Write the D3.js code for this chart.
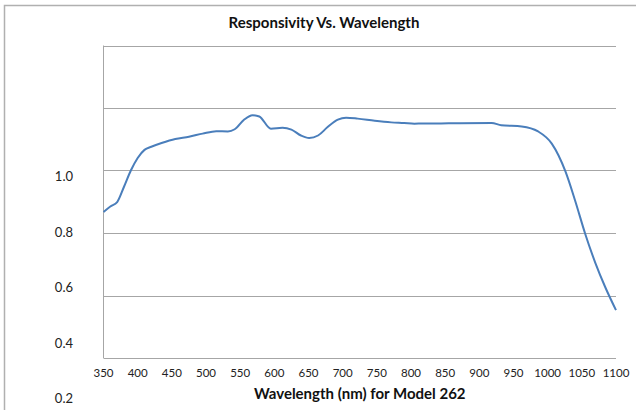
<!DOCTYPE html>
<html>
<head>
<meta charset="utf-8">
<script src="https://cdn.jsdelivr.net/npm/d3@7"></script>
<style>
  body { margin: 0; background: #fff; }
  svg { display: block; font-family: Lato, "Open Sans", sans-serif; }
</style>
</head>
<body>
<svg id="chart" width="636" height="410"></svg>
<script>
(function() {

  // wavelength (nm) and responsivity
  let wavelengths = [350, 360, 370, 380, 390, 400, 410, 420, 435, 455, 475, 495, 515, 532, 542,
                     556, 568, 578, 595, 612, 625, 639, 651, 664, 678, 693, 705, 722, 747, 771,
                     790, 805, 855, 918, 932, 962, 986, 1006, 1026, 1040, 1055, 1070, 1084, 1100];
  let responsivity = [0.667, 0.685, 0.699, 0.748, 0.800, 0.840, 0.866, 0.876, 0.888, 0.901, 0.908, 0.918, 0.926, 0.925, 0.932,
                      0.963, 0.977, 0.973, 0.934, 0.937, 0.931, 0.912, 0.904, 0.912, 0.939, 0.963, 0.969, 0.966, 0.959, 0.954,
                      0.952, 0.950, 0.951, 0.952, 0.945, 0.941, 0.925, 0.886, 0.797, 0.705, 0.597, 0.503, 0.428, 0.353];

  let xTicks = d3.range(350, 1101, 50);
  let gridValues = [0.4, 0.6, 0.8, 1.0, 1.2];
  let yLabels = ["1.0", "0.8", "0.6", "0.4", "0.2"];

  let svg = d3.select("#chart");
  let left = 103.5, right = 616, top = 45.5, bottom = 358;

  // chart frame
  svg.append("path")
     .attr("d", "M4.5,410 V5.5 H636")
     .attr("fill", "none")
     .attr("stroke", "#b0b0b0")
     .attr("stroke-width", 1.5);

  let xScale = d3.scaleLinear()
                 .domain([350, 1100])
                 .range([left, right]);
  let yScale = d3.scaleLinear()
                 .domain([0.2, 1.2])
                 .range([bottom, top]);
  // the y labels in the picture sit on their own spacing, not on the gridlines
  let labelScale = d3.scaleLinear()
                     .domain([1.0, 0.2])
                     .range([176, 398]);

  // gridlines
  svg.append("g")
     .selectAll("line")
     .data(gridValues)
     .enter()
     .append("line")
     .attr("x1", left)
     .attr("x2", right)
     .attr("y1", d => Math.round(yScale(d)) + 0.5)
     .attr("y2", d => Math.round(yScale(d)) + 0.5)
     .attr("stroke", "#a6a6a6")
     .attr("stroke-width", 1);

  // axes lines
  svg.append("line")
     .attr("x1", left).attr("x2", left)
     .attr("y1", top).attr("y2", bottom)
     .attr("stroke", "#a6a6a6");
  svg.append("line")
     .attr("x1", left).attr("x2", right)
     .attr("y1", bottom + 0.5).attr("y2", bottom + 0.5)
     .attr("stroke", "#a6a6a6");

  // x tick labels
  svg.append("g")
     .selectAll("text")
     .data(xTicks)
     .enter()
     .append("text")
     .attr("x", d => xScale(d))
     .attr("y", 377)
     .attr("text-anchor", "middle")
     .attr("font-size", "11.5px")
     .attr("fill", "#222")
     .text(d => d);

  // y labels
  svg.append("g")
     .selectAll("text")
     .data(yLabels)
     .enter()
     .append("text")
     .attr("x", 73)
     .attr("y", d => labelScale(+d) + 5)
     .attr("text-anchor", "end")
     .attr("font-size", "13px")
     .attr("fill", "#222")
     .text(d => d);

  // curve
  let line = d3.line()
               .x(d => xScale(d[0]))
               .y(d => yScale(d[1]))
               .curve(d3.curveMonotoneX);
  svg.append("path")
     .datum(d3.zip(wavelengths, responsivity))
     .attr("fill", "none")
     .attr("stroke", "#4a7ebb")
     .attr("stroke-width", 2)
     .attr("d", line);

  // titles
  svg.append("text")
     .attr("x", 324)
     .attr("y", 28)
     .attr("text-anchor", "middle")
     .attr("font-size", "15px")
     .attr("font-weight", "bold")
     .attr("fill", "#111")
     .text("Responsivity Vs. Wavelength");
  svg.append("text")
     .attr("x", (left + right) / 2)
     .attr("y", 399)
     .attr("text-anchor", "middle")
     .attr("font-size", "15px")
     .attr("font-weight", "bold")
     .attr("fill", "#111")
     .text("Wavelength (nm) for Model 262");

})();
</script>
</body>
</html>
